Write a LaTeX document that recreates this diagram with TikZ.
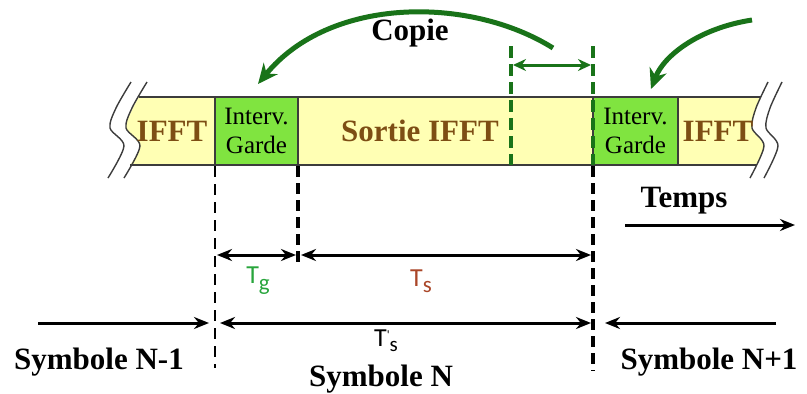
\documentclass[tikz,border=0pt]{standalone}
\usepackage{fontspec}
\setmainfont{Liberation Serif}
\newfontfamily\calfont{Carlito}
\usetikzlibrary{arrows.meta}
\definecolor{bandyellow}{RGB}{255,255,180}
\definecolor{guardgreen}{RGB}{128,228,64}
\definecolor{darkgreen}{RGB}{25,115,25}
\definecolor{ifftbrown}{RGB}{125,78,20}
\definecolor{tgreen}{RGB}{40,165,60}
\definecolor{tred}{RGB}{170,70,40}
\definecolor{edgegray}{RGB}{60,60,60}
\begin{document}
\begin{tikzpicture}[x=1pt,y=-1pt,
  boldtxt/.style={font=\fontsize{31}{34}\selectfont\bfseries, inner sep=0pt},
  iffttxt/.style={boldtxt, text=ifftbrown},
  guardbox/.style={draw=edgegray, line width=1.2pt, fill=guardgreen, minimum height=68pt, inner sep=0pt, align=center, font=\fontsize{25}{29}\selectfont},
  tlabel/.style={font=\calfont\fontsize{26}{28}\selectfont, inner sep=0pt},
  dimarrow/.style={line width=3pt, {Stealth[length=15pt,width=12pt]}-{Stealth[length=15pt,width=12pt]}},
  onearrow/.style={line width=3pt, -{Stealth[length=15pt,width=12pt]}},
  greendash/.style={darkgreen, line width=3.5pt, dash pattern=on 12pt off 6pt},
  blackdash/.style={black, line width=2.5pt, dash pattern=on 11pt off 7pt},
  thickdash/.style={black, line width=4.5pt, dash pattern=on 11pt off 6pt},
  copyarrow/.style={darkgreen, line width=5pt, -{Stealth[length=20pt,width=18pt]}},
  breakline/.style={edgegray, line width=1.4pt}
]
\useasboundingbox (0,0) rectangle (807,394);
% band fill
\fill[bandyellow] (139,97) -- (761,97)
  -- plot[smooth] coordinates {(761,97) (756,110) (752,128) (764,146) (757,165)}
  -- (130,165)
  -- plot[smooth] coordinates {(130,165) (140,146) (126,128) (132,110) (139,97)} -- cycle;
\draw[breakline] (139,97) -- (761,97);
\draw[breakline] (130,165) -- (757,165);
% break marks
\draw[breakline] plot[smooth] coordinates {(131,82) (116,108) (110,128) (124,146) (108,178)};
\draw[breakline] plot[smooth] coordinates {(147,82) (132,108) (126,128) (140,146) (124,178)};
\draw[breakline] plot[smooth] coordinates {(768,82) (756,108) (752,128) (764,146) (750,178)};
\draw[breakline] plot[smooth] coordinates {(782,82) (770,108) (766,128) (778,146) (764,178)};
% guard intervals
\node[guardbox, minimum width=83pt] (g1) at (256.5,131) {Interv.\\Garde};
\node[guardbox, minimum width=85pt] (g2) at (635.5,131) {Interv.\\Garde};
% band texts
\node[iffttxt] (ifftL) at (172,131) {IFFT};
\node[iffttxt] (sortie) at (420,131) {Sortie IFFT};
\node[iffttxt] (ifftR) at (718,131) {IFFT};
% green dashed copy region
\coordinate (c1top) at (511,46);
\coordinate (c1bot) at (511,165);
\coordinate (c2top) at (593,46);
\coordinate (c2bot) at (593,165);
\draw[greendash] (c1top) -- (c1bot);
\draw[greendash] (c2top) -- (c2bot);
\coordinate (ca) at (513,65);
\coordinate (cb) at (591,65);
\draw[darkgreen, line width=3pt, {Stealth[length=13pt,width=12pt]}-{Stealth[length=13pt,width=12pt]}] (ca) -- (cb);
% copy arrows
\coordinate (s1) at (553,48);
\coordinate (e1) at (258,84);
\draw[copyarrow] (s1) .. controls (470,-4) and (330,-4) .. (e1);
\node[boldtxt] (copie) at (410,33) {Copie};
\coordinate (s2) at (752,20);
\coordinate (e2) at (651,89);
\draw[copyarrow] (s2) .. controls (700,28) and (664,55) .. (e2);
% black dashed verticals
\coordinate (v1t) at (215,166);
\coordinate (v1b) at (215,368);
\coordinate (v2t) at (298,166);
\coordinate (v2b) at (298,267);
\coordinate (v3t) at (593,166);
\coordinate (v3b) at (593,371);
\draw[blackdash] (v1t) -- (v1b);
\draw[thickdash] (v2t) -- (v2b);
\draw[thickdash] (v3t) -- (v3b);
% dimension arrows
\coordinate (tg1) at (217,255);
\coordinate (tg2) at (296,255);
\coordinate (ts1) at (301,255);
\coordinate (ts2) at (591,255);
\draw[dimarrow] (tg1) -- (tg2);
\draw[dimarrow] (ts1) -- (ts2);
\node[tlabel, text=tgreen] (tg) at (258,281) {T\raisebox{-7pt}{\fontsize{23}{23}\selectfont g}};
\node[tlabel, text=tred] (ts) at (421,281) {T\raisebox{-6pt}{\fontsize{23}{23}\selectfont s}};
% symbol arrows
\coordinate (a1) at (38,323);
\coordinate (a2) at (209,323);
\coordinate (b1) at (220,323);
\coordinate (b2) at (591,323);
\coordinate (d1) at (776,323);
\coordinate (d2) at (605,323);
\draw[onearrow] (a1) -- (a2);
\draw[dimarrow] (b1) -- (b2);
\draw[onearrow] (d1) -- (d2);
\node[tlabel] (tsp) at (386,341) {T\raisebox{7pt}{\fontsize{13}{13}\selectfont '}\raisebox{-5pt}{\fontsize{21}{21}\selectfont s}};
% temps
\node[boldtxt] (temps) at (684,201) {Temps};
\coordinate (t1) at (625,225);
\coordinate (t2) at (795,225);
\draw[onearrow] (t1) -- (t2);
% symbol labels
\node[boldtxt] (symA) at (99,362) {Symbole N-1};
\node[boldtxt] (symB) at (381,379) {Symbole N};
\node[boldtxt] (symC) at (709,362) {Symbole N+1};
\end{tikzpicture}
\end{document}
